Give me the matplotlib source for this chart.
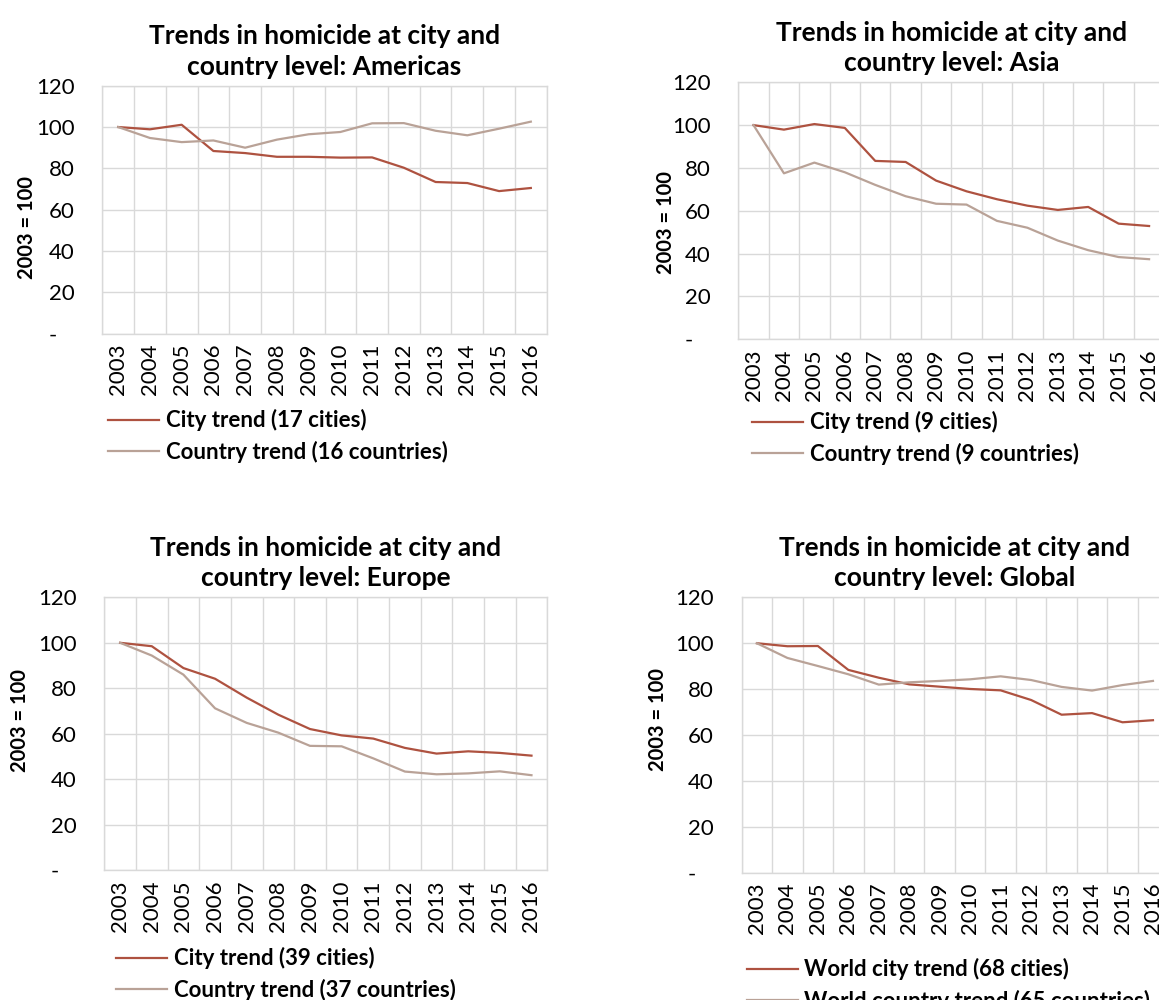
import numpy as np
import matplotlib
matplotlib.use("Agg")
import matplotlib.pyplot as plt

plt.rcParams['font.family'] = ['Lato', 'DejaVu Sans']

# Data (index, 2003 = 100)
years = [str(y) for y in range(2003, 2017)]

americas_city = [100, 98.9, 101.1, 88.4, 87.4, 85.6, 85.6, 85.2, 85.3, 80.3, 73.4, 72.9, 69.0, 70.5]
americas_country = [100, 94.7, 92.7, 93.5, 90.0, 93.9, 96.5, 97.6, 101.8, 101.9, 98.2, 96.0, 99.2, 102.6]

asia_city = [100, 97.9, 100.5, 98.7, 83.3, 82.8, 74.1, 69.1, 65.4, 62.4, 60.4, 61.8, 54.0, 52.9]
asia_country = [100, 77.5, 82.5, 78.0, 72.1, 66.8, 63.3, 62.9, 55.3, 52.1, 46.1, 41.6, 38.4, 37.4]

europe_city = [100, 98.5, 88.9, 84.2, 75.9, 68.4, 62.1, 59.3, 57.9, 53.8, 51.3, 52.3, 51.6, 50.4]
europe_country = [100, 94.4, 86.0, 71.2, 64.8, 60.5, 54.7, 54.5, 49.2, 43.4, 42.2, 42.6, 43.5, 41.8]

global_city = [100, 98.7, 98.8, 88.4, 85.0, 82.1, 81.1, 80.1, 79.5, 75.3, 68.9, 69.6, 65.6, 66.5]
global_country = [100, 93.6, 90.1, 86.5, 82.0, 83.0, 83.6, 84.3, 85.6, 84.0, 81.0, 79.4, 81.8, 83.6]

regions = ["Americas", "Asia", "Europe", "Global"]
city_labels = ["City trend (17 cities)", "City trend (9 cities)",
               "City trend (39 cities)", "World city trend (68 cities)"]
country_labels = ["Country trend (16 countries)", "Country trend (9 countries)",
                  "Country trend (37 countries)", "World country trend (65 countries)"]
city_series = [americas_city, asia_city, europe_city, global_city]
country_series = [americas_country, asia_country, europe_country, global_country]

yticks = [0, 20, 40, 60, 80, 100, 120]
ytick_labels = ["-   ", "20", "40", "60", "80", "100", "120"]

CITY_COLOR = "#AE5240"
COUNTRY_COLOR = "#B9A297"
GRID_COLOR = "#D9D9D9"

W, H = 1159, 1000
fig = plt.figure(figsize=(W / 100, H / 100), dpi=100)

# panel layout in pixels: left, top, right, bottom
boxes = [(102.3, 85.7, 546.7, 333.7),
         (738.3, 82.3, 1164.3, 339.3),
         (104.3, 597.3, 547.3, 870.3),
         (741.7, 597.3, 1168.2, 873.0)]
ylabel_pos = [(26.7, 228), (666, 223), (20.5, 721), (658, 720)]
legend_pos = [(108, 436), (752, 438), (116, 974), (746.7, 985)]


def px_box(b):
    l, t, r, btm = b
    return [l / W, 1 - btm / H, (r - l) / W, (btm - t) / H]


x = np.arange(len(years))
for i, region in enumerate(regions):
    ax = fig.add_axes(px_box(boxes[i]))
    ax.plot(x, city_series[i], color=CITY_COLOR, lw=1.6, label=city_labels[i])
    ax.plot(x, country_series[i], color=COUNTRY_COLOR, lw=1.6, label=country_labels[i])

    ax.set_xlim(-0.5, len(years) - 0.5)
    ax.set_ylim(0, 120)
    ax.set_yticks(yticks)
    ax.set_yticklabels(ytick_labels, fontsize=16)
    ax.set_xticks(x)
    ax.set_xticklabels(years, rotation=90, fontsize=16)
    ax.set_xticks(np.arange(-0.5, len(years), 1), minor=True)
    ax.tick_params(axis='both', which='both', length=0)
    ax.tick_params(axis='y', pad=20)
    ax.tick_params(axis='x', pad=7)
    ax.grid(True, which='major', axis='y', color=GRID_COLOR, lw=1)
    ax.grid(True, which='minor', axis='x', color=GRID_COLOR, lw=1)
    ax.set_axisbelow(True)
    for s in ax.spines.values():
        s.set_color(GRID_COLOR)
        s.set_linewidth(1)

    ax.set_title("Trends in homicide at city and\ncountry level: " + region,
                 fontsize=19, fontweight='bold', pad=8, linespacing=1.33)

    lx, ly = ylabel_pos[i]
    fig.text(lx / W, 1 - ly / H, "2003 = 100", rotation=90, ha='center', va='center',
             fontsize=14.5, fontweight='bold')

    gx, gy = legend_pos[i]
    leg = ax.legend(loc='center left', bbox_to_anchor=(gx / W, 1 - gy / H),
                    bbox_transform=fig.transFigure, frameon=False,
                    prop={'size': 16, 'weight': 'bold'}, handlelength=2.3,
                    handletextpad=0.3, labelspacing=0.42, borderpad=0, borderaxespad=0)

fig.savefig("out.png", dpi=100)
